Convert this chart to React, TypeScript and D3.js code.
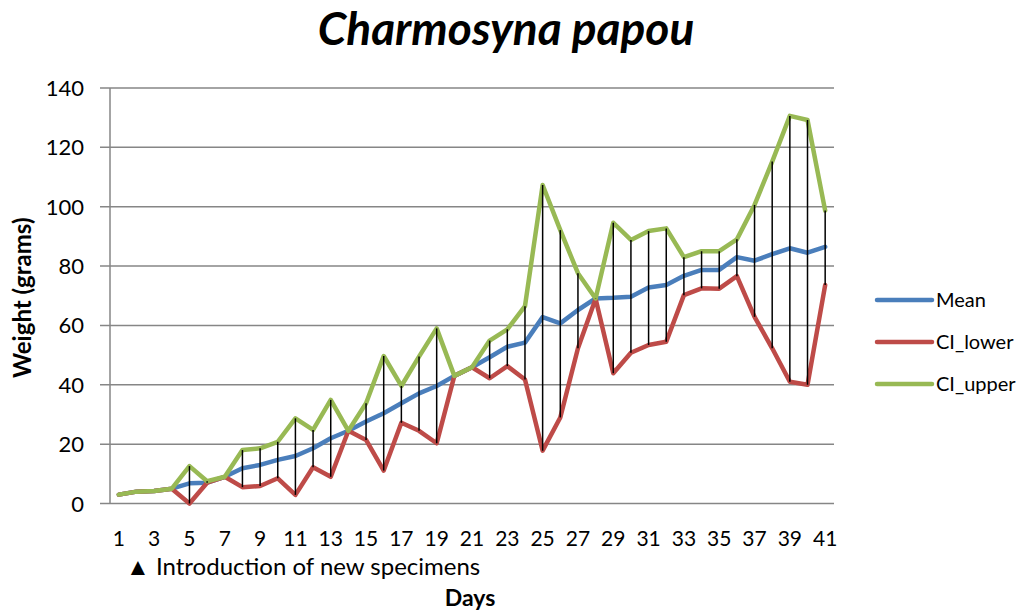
import React from 'react';
import * as d3 from 'd3';

const days = [
  '1', '2', '3', '4', '5', '6', '7', '8', '9', '10', '11', '12', '13', '14',
  '15', '16', '17', '18', '19', '20', '21', '22', '23', '24', '25', '26', '27',
  '28', '29', '30', '31', '32', '33', '34', '35', '36', '37', '38', '39', '40', '41',
];

const mean = [
  3, 4, 4.2, 5, 6.8, 7, 9, 11.9, 13, 14.7, 16, 18.6, 22, 24.5, 27.6, 30.4, 33.8,
  37.1, 39.6, 43, 45.9, 49.3, 52.8, 54.2, 62.8, 60.7, 65.2, 69.1, 69.3, 69.7,
  72.8, 73.6, 76.7, 78.7, 78.7, 83, 81.8, 84, 86, 84.5, 86.5,
];

const ciLower = [
  3, 4, 4.2, 5, 0, 7, 9, 5.5, 5.9, 8.5, 2.9, 12.2, 9, 24.5, 21.4, 11.1, 27.2,
  24.5, 20.3, 43, 45.9, 42.2, 46.3, 41.8, 17.8, 29, 52.3, 69, 43.9, 50.8, 53.4,
  54.5, 70.2, 72.5, 72.4, 76.6, 62.9, 52.3, 41, 40, 73.6,
];

const ciUpper = [
  3, 4, 4.2, 5, 12.6, 7.5, 9, 18, 18.6, 20.8, 28.7, 24.8, 34.9, 24.5, 33.8, 49.7,
  39.6, 49.5, 59, 43, 45.9, 54.9, 58.7, 66.5, 107.3, 92.1, 77.6, 69.1, 94.6, 88.8,
  91.8, 92.7, 83, 85, 85, 89, 100.6, 115.2, 130.6, 129.2, 98.7,
];

const yTicks = [0, 20, 40, 60, 80, 100, 120, 140];
const xTickLabels = days.filter((_, i) => i % 2 === 0);

const series = [
  { name: 'Mean', values: mean, color: '#4A7EBB' },
  { name: 'CI_lower', values: ciLower, color: '#BE4B48' },
  { name: 'CI_upper', values: ciUpper, color: '#98B954' },
];

const FONT = 'Lato, "Open Sans", sans-serif';

export default function App() {
  const width = 1019;
  const height = 614;
  const plot = { left: 110, right: 834, top: 88, bottom: 503.5 };

  const x = d3.scaleBand().domain(days).range([plot.left, plot.right]);
  const cx = (d: string) => (x(d) as number) + x.bandwidth() / 2;
  const y = d3.scaleLinear().domain([0, 140]).range([plot.bottom, plot.top]);

  const line = d3
    .line<number>()
    .x((_, i) => cx(days[i]))
    .y((v) => y(v));

  return (
    <svg
      width={width}
      height={height}
      style={{ position: 'absolute', left: 0, top: 0, background: '#fff' }}
      fontFamily={FONT}
    >
      {/* title */}
      <text
        x={506}
        y={45}
        textAnchor="middle"
        fontSize={46}
        fontWeight="bold"
        fontStyle="italic"
        fill="#000"
      >
        Charmosyna papou
      </text>

      {/* grid + y ticks */}
      {yTicks.map((t) => (
        <g key={t}>
          <line x1={plot.left - 10} x2={plot.right} y1={y(t)} y2={y(t)} stroke="#868686" strokeWidth={1.5} />
          <text x={plot.left - 26} y={y(t) + 8} textAnchor="end" fontSize={22} fill="#000">
            {t}
          </text>
        </g>
      ))}
      <line x1={plot.left} x2={plot.left} y1={plot.top} y2={plot.bottom} stroke="#868686" strokeWidth={1.5} />

      {/* x tick labels */}
      {xTickLabels.map((d) => (
        <text key={d} x={cx(d)} y={546} textAnchor="middle" fontSize={21} fill="#000">
          {d}
        </text>
      ))}

      {/* series lines */}
      {series.map((s) => (
        <path
          key={s.name}
          d={line(s.values) as string}
          fill="none"
          stroke={s.color}
          strokeWidth={4.5}
          strokeLinejoin="round"
          strokeLinecap="round"
        />
      ))}

      {/* CI bars */}
      {days.map((d, i) => (
        <line
          key={d}
          x1={cx(d)}
          x2={cx(d)}
          y1={y(ciLower[i])}
          y2={y(ciUpper[i])}
          stroke="#000"
          strokeWidth={1.5}
        />
      ))}

      {/* note */}
      <text x={126} y={575} fontSize={24} fill="#000">
        <tspan fontSize={24}>▲</tspan>
        <tspan x={156}>Introduction of new specimens</tspan>
      </text>

      {/* axis titles */}
      <text x={470} y={606} textAnchor="middle" fontSize={23} fontWeight="bold" fill="#000">
        Days
      </text>
      <text
        transform={`translate(31, ${(plot.top + plot.bottom) / 2 + 2}) rotate(-90)`}
        textAnchor="middle"
        fontSize={24}
        fontWeight="bold"
        fill="#000"
      >
        Weight (grams)
      </text>

      {/* legend */}
      {series.map((s, i) => (
        <g key={s.name} transform={`translate(877, ${300 + i * 42})`}>
          <line x1={0} x2={55} y1={0} y2={0} stroke={s.color} strokeWidth={4.5} strokeLinecap="round" />
          <text x={59} y={7} fontSize={20} fill="#000">
            {s.name}
          </text>
        </g>
      ))}
    </svg>
  );
}
